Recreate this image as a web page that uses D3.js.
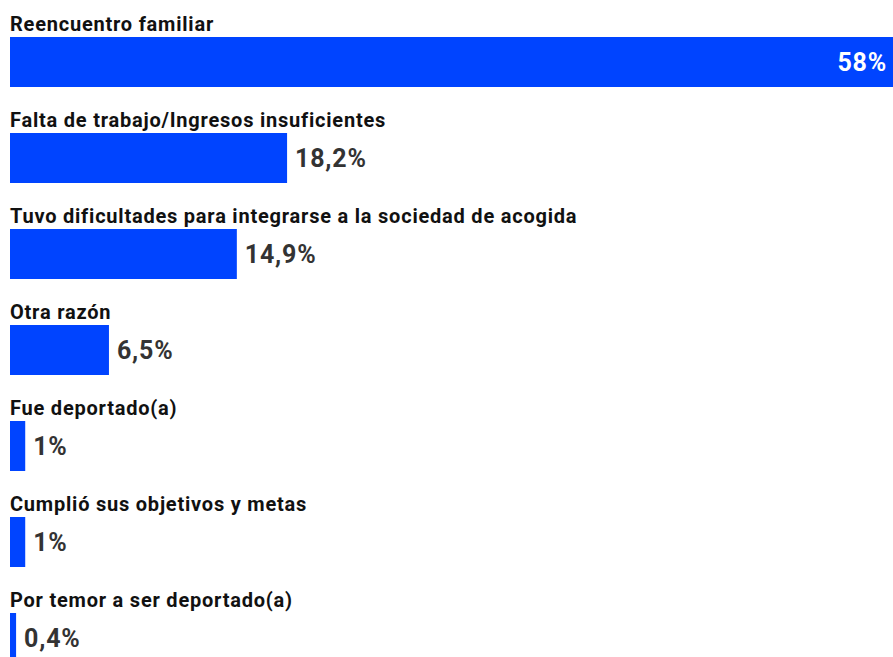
<!DOCTYPE html>
<html><head><meta charset="utf-8">
<script src="https://cdn.jsdelivr.net/npm/d3@7"></script>
<style>body{margin:0;background:#fff}svg{display:block}</style>
</head><body>
<script>
const categories = ["Reencuentro familiar","Falta de trabajo/Ingresos insuficientes","Tuvo dificultades para integrarse a la sociedad de acogida","Otra razón","Fue deportado(a)","Cumplió sus objetivos y metas","Por temor a ser deportado(a)"];
const values = [58, 18.2, 14.9, 6.5, 1, 1, 0.4];
const valueLabels = ["58%","18,2%","14,9%","6,5%","1%","1%","0,4%"];

const W = 893, H = 657;
const svg = d3.select("body").append("svg").attr("width", W).attr("height", H);
const x = d3.scaleLinear().domain([0, 58]).range([0, 883]);
const y = d3.scaleBand().domain(categories).range([0, 96*7]).paddingInner(0);
const left = 10, barTop = 37, barH = 50;

const g = svg.selectAll("g.row").data(categories).join("g").attr("class","row")
  .attr("transform", d => `translate(${left},${y(d)})`);

g.append("text").attr("x", 0).attr("y", barTop - 6)
  .attr("font-family","Roboto").attr("font-weight","bold").attr("font-size",20)
  .attr("letter-spacing","0.78px")
  .attr("fill","#111").text(d => d);

g.append("rect").attr("x",0).attr("y",barTop)
  .attr("width",(d,i)=>Math.max(x(values[i]),4)).attr("height",barH).attr("fill","#0044ff");

g.append("text")
  .attr("x",(d,i)=> i===0 ? x(values[i]) - 6 : Math.max(x(values[i]),4) + 8)
  .attr("y", barTop + barH/2 + 9)
  .attr("text-anchor",(d,i)=> i===0 ? "end" : "start")
  .attr("font-family","Roboto").attr("font-weight","bold").attr("font-size",25)
  .attr("letter-spacing","0.8px")
  .attr("fill",(d,i)=> i===0 ? "#fff" : "#333")
  .text((d,i)=>valueLabels[i]);
</script>
</body></html>
